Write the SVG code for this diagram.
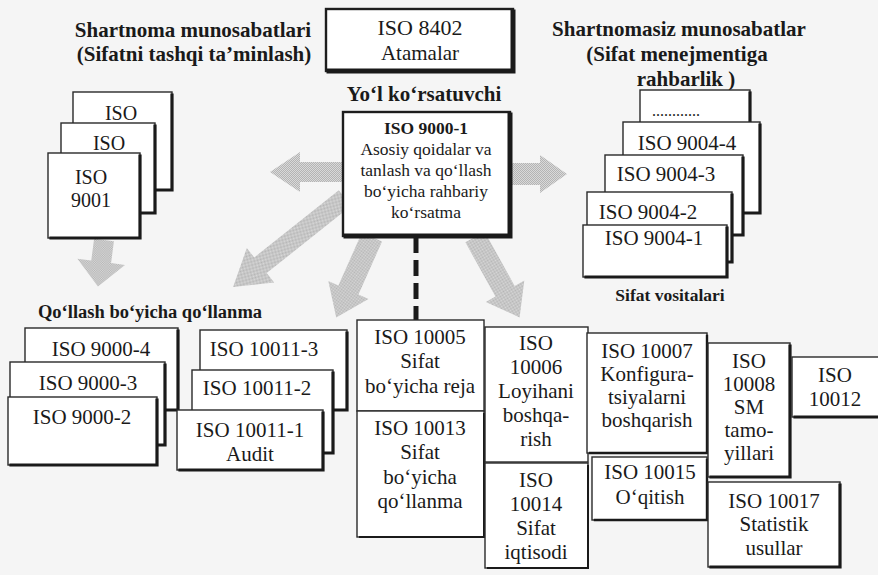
<svg xmlns="http://www.w3.org/2000/svg" width="878" height="575" viewBox="0 0 878 575">
<defs>
<pattern id="dith" width="2" height="2" patternUnits="userSpaceOnUse">
<rect width="2" height="2" fill="#d9d9d9"/>
<rect width="1" height="1" fill="#b4b4b4"/>
<rect x="1" y="1" width="1" height="1" fill="#b4b4b4"/>
</pattern>
<style>
.bx{fill:#fff;stroke:#2a2a2a;stroke-width:1.4}
.bk{fill:#fff;stroke:#1e1e1e;stroke-width:2.4}
.sh{fill:none;stroke:#1a1a1a;stroke-width:3.2;stroke-linecap:square}
.shk{fill:none;stroke:#1a1a1a;stroke-width:5;stroke-linecap:square}
.t{font-family:"Liberation Serif","DejaVu Serif",serif;font-size:21px;fill:#1a1a1a;text-anchor:middle}
.s{font-size:17.5px}
.h{font-weight:bold}
.arw{fill:url(#dith)}
.dash{stroke:#1a1a1a;stroke-width:5;stroke-dasharray:16 7}
</style>
</defs>
<rect width="878" height="575" fill="#f5f5f5"/>

<g id="connectors">
<path class="arw" d="M0,-10 L43,-10 L43,-20 L73,0 L43,20 L43,10 L0,10 Z" transform="translate(343,172) rotate(180)"/>
<path class="arw" d="M0,-11 L30,-11 L30,-19 L57,0 L30,19 L30,11 L0,11 Z" transform="translate(510,174)"/>
<path class="arw" d="M0,-10 L108,-10 L108,-22 L143,0 L108,22 L108,10 L0,10 Z" transform="translate(345,198) rotate(141.5)"/>
<path class="arw" d="M0,-11 L58,-11 L58,-22 L88,0 L58,22 L58,11 L0,11 Z" transform="translate(372,237) rotate(114)"/>
<path class="arw" d="M0,-11 L62,-11 L62,-22 L92,0 L62,22 L62,11 L0,11 Z" transform="translate(475,237) rotate(61)"/>
<path class="arw" d="M0,-10 L22,-10 L22,-24 L47,0 L22,24 L22,10 L0,10 Z" transform="translate(104,240) rotate(97.4)"/>
<line class="dash" x1="416" y1="237" x2="416" y2="320"/>
</g>

<g id="labels">
<text class="t h" x="193" y="37">Shartnoma munosabatlari</text>
<text class="t h" x="194" y="61">(Sifatni tashqi ta’minlash)</text>
<text class="t h" x="679" y="36">Shartnomasiz munosabatlar</text>
<text class="t h" x="677" y="61">(Sifat menejmentiga</text>
<text class="t h" x="686" y="86">rahbarlik )</text>
<text class="t h" x="424" y="101">Yo‘l ko‘rsatuvchi</text>
<text class="t h" x="150" y="318" style="font-size:18.5px">Qo‘llash bo‘yicha qo‘llanma</text>
<text class="t h" x="670" y="301" style="font-size:17.5px">Sifat vositalari</text>
</g>

<g id="iso8402">
<rect class="bk" x="326" y="9" width="187" height="62"/>
<path class="shk" d="M513,12 V71 H329"/>
<text class="t" x="420" y="35" style="font-size:22px">ISO 8402</text>
<text class="t" x="420" y="60">Atamalar</text>
</g>

<g id="iso9000-1">
<rect class="bk" x="343" y="112" width="167" height="124"/>
<path class="shk" d="M510,115 V236 H346"/>
<text class="t s h" x="426" y="134">ISO 9000-1</text>
<text class="t s" x="426" y="155">Asosiy qoidalar va</text>
<text class="t s" x="426" y="176">tanlash va qo‘llash</text>
<text class="t s" x="426" y="197">bo‘yicha rahbariy</text>
<text class="t s" x="426" y="218">ko‘rsatma</text>
</g>

<g id="iso-stack-a">
<rect class="bx" x="73" y="92" width="99" height="98"/>
<path class="sh" d="M172,95 V190 H76"/>
<text class="t" x="121" y="120" style="font-size:20px">ISO</text>
</g>
<g id="iso-stack-b">
<rect class="bx" x="61" y="123" width="94" height="90"/>
<path class="sh" d="M155,126 V213 H64"/>
<text class="t" x="109" y="150" style="font-size:20px">ISO</text>
</g>
<g id="iso9001">
<rect class="bx" x="48" y="153" width="92" height="85"/>
<path class="sh" d="M140,156 V238 H51"/>
<text class="t" x="91" y="184" style="font-size:20px">ISO</text>
<text class="t" x="91" y="207" style="font-size:20px">9001</text>
</g>

<g id="iso9004-5">
<rect class="bx" x="640" y="90" width="110" height="40"/>
<path class="sh" d="M750,93 V130"/>
<text class="t" x="676" y="116" style="font-size:16px">............</text>
</g>
<g id="iso9004-4">
<rect class="bx" x="623" y="122" width="137" height="91"/>
<path class="sh" d="M760,125 V213 H626"/>
<text class="t" x="687" y="150">ISO 9004-4</text>
</g>
<g id="iso9004-3">
<rect class="bx" x="605" y="155" width="138" height="80"/>
<path class="sh" d="M743,158 V235 H608"/>
<text class="t" x="666" y="181">ISO 9004-3</text>
</g>
<g id="iso9004-2">
<rect class="bx" x="587" y="192" width="145" height="70"/>
<path class="sh" d="M732,195 V262 H590"/>
<text class="t" x="648" y="219">ISO 9004-2</text>
</g>
<g id="iso9004-1">
<rect class="bx" x="583" y="225" width="144" height="52"/>
<path class="sh" d="M727,228 V277 H586"/>
<text class="t" x="654" y="245">ISO 9004-1</text>
</g>

<g id="iso9000-4">
<rect class="bx" x="25" y="328" width="153" height="82"/>
<path class="sh" d="M178,331 V410 H28"/>
<text class="t" x="101" y="356">ISO 9000-4</text>
</g>
<g id="iso9000-3">
<rect class="bx" x="10" y="362" width="155" height="83"/>
<path class="sh" d="M165,365 V445 H13"/>
<text class="t" x="88" y="390">ISO 9000-3</text>
</g>
<g id="iso9000-2">
<rect class="bx" x="8" y="397" width="149" height="68"/>
<path class="sh" d="M157,400 V465 H11"/>
<text class="t" x="82" y="424">ISO 9000-2</text>
</g>

<g id="iso10011-3">
<rect class="bx" x="200" y="330" width="147" height="80"/>
<path class="sh" d="M347,333 V410 H203"/>
<text class="t" x="264" y="356">ISO 10011-3</text>
</g>
<g id="iso10011-2">
<rect class="bx" x="192" y="370" width="141" height="83"/>
<path class="sh" d="M333,373 V453 H195"/>
<text class="t" x="257" y="395">ISO 10011-2</text>
</g>
<g id="iso10011-1">
<rect class="bx" x="177" y="410" width="146" height="60"/>
<path class="sh" d="M323,413 V470 H180"/>
<text class="t" x="250" y="437">ISO 10011-1</text>
<text class="t" x="250" y="461">Audit</text>
</g>

<g id="iso10005">
<rect class="bx" x="357" y="320" width="127" height="91"/>
<text class="t" x="420" y="344">ISO 10005</text>
<text class="t" x="420" y="368">Sifat</text>
<text class="t" x="420" y="393">bo‘yicha reja</text>
</g>
<g id="iso10013">
<rect class="bx" x="357" y="411" width="127" height="126"/>
<path class="sh" d="M484,414 V537 H360" style="stroke-width:2"/>
<text class="t" x="420" y="435">ISO 10013</text>
<text class="t" x="420" y="459">Sifat</text>
<text class="t" x="420" y="484">bo‘yicha</text>
<text class="t" x="420" y="508">qo‘llanma</text>
</g>
<g id="iso10006">
<rect class="bx" x="485" y="327" width="103" height="135"/>
<text class="t" x="536" y="350">ISO</text>
<text class="t" x="536" y="374">10006</text>
<text class="t" x="536" y="398">Loyihani</text>
<text class="t" x="536" y="422">boshqa-</text>
<text class="t" x="536" y="446">rish</text>
</g>
<g id="iso10014">
<rect class="bx" x="485" y="463" width="103" height="105"/>
<path class="sh" d="M588,466 V568 H488" style="stroke-width:2"/>
<text class="t" x="536" y="487">ISO</text>
<text class="t" x="536" y="511">10014</text>
<text class="t" x="536" y="535">Sifat</text>
<text class="t" x="536" y="559">iqtisodi</text>
</g>
<g id="iso10007">
<rect class="bx" x="587" y="333" width="120" height="120"/>
<path class="sh" d="M707,336 V453 H590" style="stroke-width:2.4"/>
<text class="t" x="647" y="358">ISO 10007</text>
<text class="t" x="647" y="381">Konfigura-</text>
<text class="t" x="647" y="404">tsiyalarni</text>
<text class="t" x="647" y="427">boshqarish</text>
</g>
<g id="iso10015">
<rect class="bx" x="592" y="457" width="115" height="63"/>
<path class="sh" d="M707,460 V520 H595" style="stroke-width:2.4"/>
<text class="t" x="650" y="479">ISO 10015</text>
<text class="t" x="650" y="504">O‘qitish</text>
</g>
<g id="iso10008">
<rect class="bx" x="708" y="343" width="82" height="134"/>
<path class="sh" d="M790,346 V477 H711"/>
<text class="t" x="749" y="368">ISO</text>
<text class="t" x="749" y="391">10008</text>
<text class="t" x="749" y="414">SM</text>
<text class="t" x="749" y="437">tamo-</text>
<text class="t" x="749" y="460">yillari</text>
</g>
<g id="iso10012">
<rect class="bx" x="792" y="357" width="90" height="60"/>
<path class="sh" d="M795,417 H878"/>
<text class="t" x="835" y="382">ISO</text>
<text class="t" x="835" y="406">10012</text>
</g>
<g id="iso10017">
<rect class="bx" x="708" y="482" width="132" height="85"/>
<path class="sh" d="M840,485 V567 H711"/>
<text class="t" x="774" y="508">ISO 10017</text>
<text class="t" x="774" y="531">Statistik</text>
<text class="t" x="774" y="555">usullar</text>
</g>
</svg>
